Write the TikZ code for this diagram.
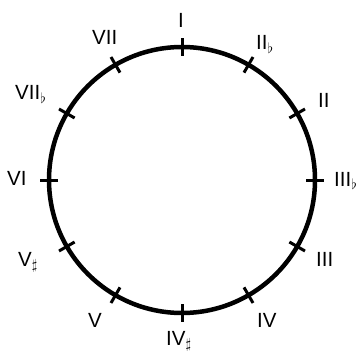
\documentclass[tikz,border=0pt]{standalone}
\usepackage{fontspec}
\setmainfont{Liberation Sans}
\usetikzlibrary{calc}
\begin{document}
\begin{tikzpicture}[x=1pt,y=-1pt,
  lab/.style={anchor=base west,inner sep=0pt,font=\fontsize{20.5}{22}\selectfont},
  tickmark/.style={line width=3pt},
  ring/.style={line width=4.5pt}]
\useasboundingbox (0,0) rectangle (358,358);
\coordinate (o) at (182,180);
\draw[ring] (o) circle[radius=133];
\foreach \a in {0,30,...,330}{
  \draw[tickmark] ($(o)+(\a:124)$) -- ($(o)+(\a:142)$);
}
\node[lab] (l1)  at (178,28)  {I};
\node[lab] (l2)  at (256,50)  {II$_\flat$};
\node[lab] (l3)  at (318,108) {II};
\node[lab] (l4)  at (334,186) {III$_\flat$};
\node[lab] (l5)  at (316,266) {III};
\node[lab] (l6)  at (257,327) {IV};
\node[lab] (l7)  at (166,345) {IV$_\sharp$};
\node[lab] (l8)  at (88,327)  {V};
\node[lab] (l9)  at (18,266)  {V$_\sharp$};
\node[lab] (l10) at (7,185)   {VI};
\node[lab] (l11) at (15,100)  {VII$_\flat$};
\node[lab] (l12) at (92,45)   {VII};
\end{tikzpicture}
\end{document}
